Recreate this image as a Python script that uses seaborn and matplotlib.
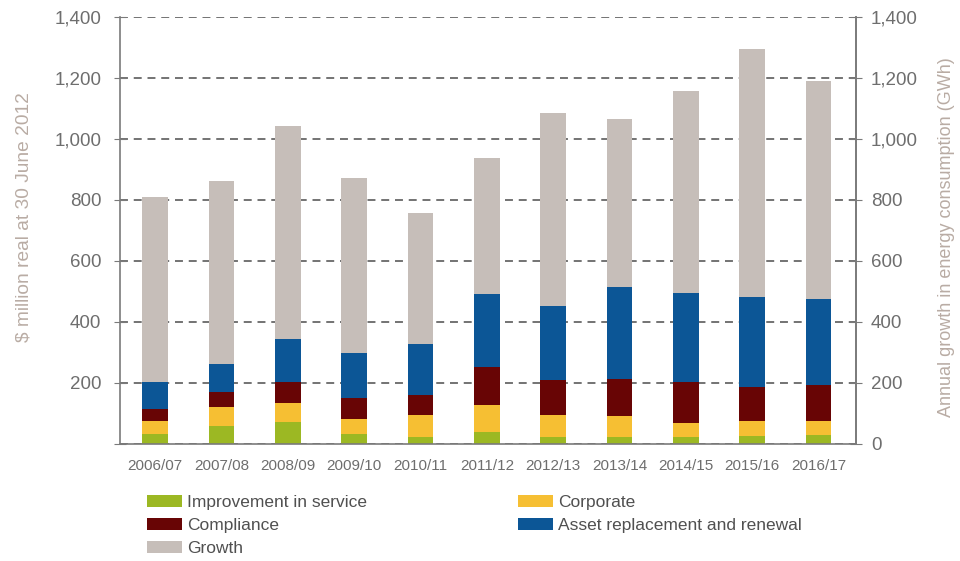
import pandas as pd
import matplotlib.pyplot as plt
import seaborn as sns
from matplotlib.patches import Patch
from matplotlib.ticker import FuncFormatter
import numpy as np

# 数据
years = ['2006/07', '2007/08', '2008/09', '2009/10', '2010/11', '2011/12',
         '2012/13', '2013/14', '2014/15', '2015/16', '2016/17']
improvement = [33, 57, 70, 33, 22, 37, 21, 21, 21, 24, 28]
corporate = [40, 65, 65, 49, 71, 90, 72, 69, 47, 50, 46]
compliance = [41, 48, 69, 68, 68, 124, 116, 122, 136, 111, 118]
asset = [88, 91, 139, 147, 166, 241, 244, 301, 290, 295, 283]
growth = [608, 601, 700, 576, 430, 445, 632, 552, 662, 813, 713]

categories = ['Improvement in service', 'Corporate', 'Compliance',
              'Asset replacement and renewal', 'Growth']
colors = {'Improvement in service': '#9cb823',
          'Corporate': '#f6bf33',
          'Compliance': '#680505',
          'Asset replacement and renewal': '#0c5696',
          'Growth': '#c6beb9'}

sns.set_style('white')
plt.rcParams['font.family'] = ['Liberation Sans', 'DejaVu Sans']

df = pd.DataFrame({'year': years,
                   'Improvement in service': improvement,
                   'Corporate': corporate,
                   'Compliance': compliance,
                   'Asset replacement and renewal': asset,
                   'Growth': growth})
long_df = df.melt(id_vars='year', var_name='category', value_name='value')
long_df['category'] = pd.Categorical(long_df['category'], categories, ordered=True)
long_df = long_df.sort_values(['year', 'category'])
long_df['top'] = long_df.groupby('year')['value'].cumsum()

axis_col = '#7a7a7a'
label_col = '#6e6e6e'
title_col = '#b9aca4'

fig, ax = plt.subplots(figsize=(9.6, 5.61), dpi=100)
fig.subplots_adjust(left=0.125, right=0.892, bottom=0.209, top=0.970)

# 从上到下依次画累计高度，形成堆叠柱状图
for cat in reversed(categories):
    sub = long_df[long_df['category'] == cat]
    sns.barplot(data=sub, x='year', y='top', order=years, color=colors[cat],
                saturation=1, width=0.39, ax=ax, linewidth=0, zorder=2)

ax.set_xlim(-0.53, 10.57)
ax.set_ylim(0, 1400)
ax.set_yticks(np.arange(0, 1401, 200))
ax.yaxis.set_major_formatter(FuncFormatter(lambda v, p: '' if v == 0 else f'{int(v):,}'))
ax.set_xticks(range(len(years)))
ax.set_xticklabels(years)
ax.set_xticks(np.arange(-0.5, 10.6, 1), minor=True)
ax.tick_params(axis='x', which='major', length=0, pad=11, labelsize=11, labelcolor=label_col)
ax.tick_params(axis='x', which='minor', length=5, direction='out', color=axis_col)
ax.tick_params(axis='y', length=9, direction='inout', color=axis_col,
               labelsize=13.5, labelcolor=label_col, pad=9)
ax.grid(axis='y', linestyle=(0, (5.2, 3.8)), color='#4d4d4d', linewidth=1.1)
ax.grid(axis='x', visible=False)
ax.set_axisbelow(True)
ax.set_xlabel('')
ax.set_ylabel('$ million real at 30 June 2012', fontsize=13.8, color=title_col)
ax.yaxis.set_label_coords(-0.119, 0.53)

for side in ['left', 'bottom', 'right']:
    ax.spines[side].set_color(axis_col)
    ax.spines[side].set_linewidth(1.2)
ax.spines['top'].set_visible(False)

ax2 = ax.twinx()
ax2.set_ylim(0, 1400)
ax2.set_yticks(np.arange(0, 1401, 200))
ax2.yaxis.set_major_formatter(FuncFormatter(lambda v, p: f'{int(v):,}'))
ax2.tick_params(axis='y', length=9, direction='inout', color=axis_col,
                labelsize=13.5, labelcolor=label_col, pad=6)
ax2.set_ylabel('Annual growth in energy consumption (GWh)', fontsize=13,
               color=title_col)
ax2.yaxis.set_label_coords(1.111, 0.485)
for side in ['left', 'bottom', 'top']:
    ax2.spines[side].set_visible(False)
ax2.spines['right'].set_color(axis_col)
ax2.spines['right'].set_linewidth(1.2)

# 图例：按行排列，两列
legend_order = ['Improvement in service', 'Compliance', 'Growth',
                'Corporate', 'Asset replacement and renewal']
handles = [Patch(facecolor=colors[c], edgecolor='none', label=c) for c in legend_order]
fig.legend(handles=handles, loc='upper left', bbox_to_anchor=(0.146, 1 - 488 / 561),
           ncol=2, frameon=False, fontsize=12.5, handlelength=2.0, handleheight=0.7,
           handletextpad=0.3, columnspacing=8.7, labelspacing=0.46,
           labelcolor='#505050', borderaxespad=0)

fig.savefig('out.png', dpi=100)
